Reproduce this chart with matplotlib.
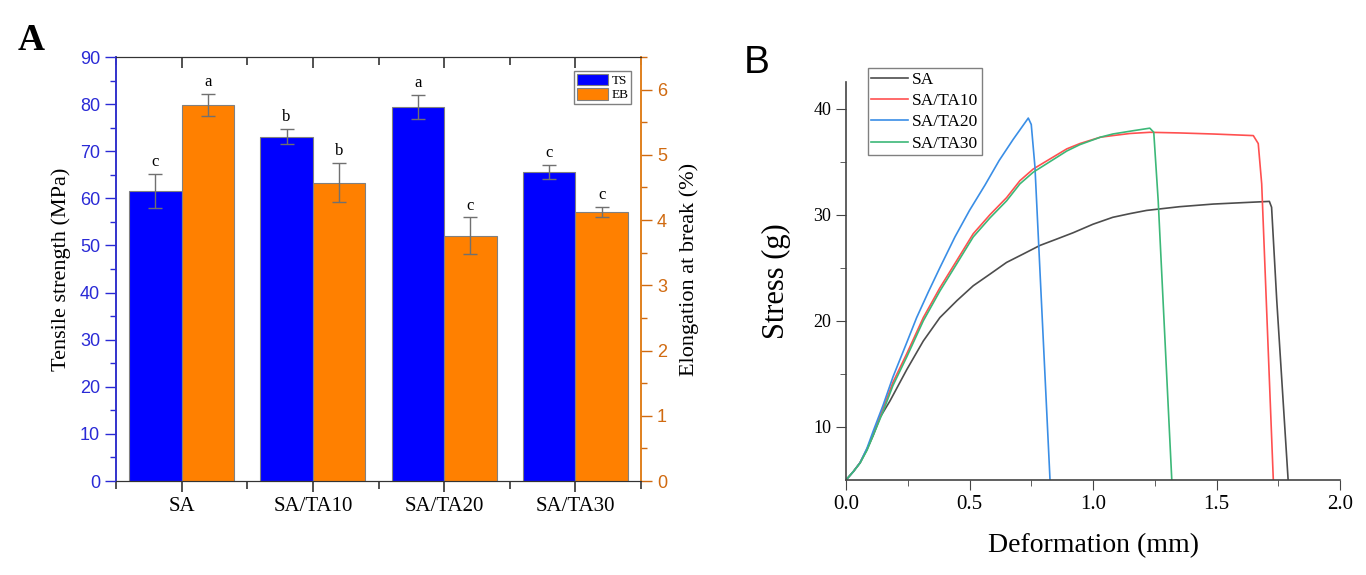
import numpy as np
import matplotlib
matplotlib.use('Agg')
import matplotlib.pyplot as plt
import matplotlib.lines as mlines
from matplotlib.ticker import MultipleLocator, FormatStrFormatter

plt.rcParams['font.family'] = 'Liberation Serif'

# panel A data
cats = ['SA', 'SA/TA10', 'SA/TA20', 'SA/TA30']
ts = [61.5, 73.1, 79.4, 65.6]
ts_err = [3.6, 1.6, 2.5, 1.4]
eb = [5.76, 4.57, 3.76, 4.12]
eb_err = [0.17, 0.30, 0.28, 0.08]
ts_letters = ['c', 'b', 'a', 'c']
eb_letters = ['a', 'b', 'c', 'c']

sa_x = [0.0, 0.03, 0.057, 0.085, 0.11, 0.138, 0.178, 0.246, 0.313, 0.38, 0.449, 0.515, 0.583, 0.65,
        0.718, 0.785, 0.853, 0.92, 1.0, 1.08, 1.15, 1.217, 1.35, 1.487, 1.622, 1.714, 1.723, 1.744, 1.79]
sa_y = [5.0, 5.8, 6.63, 7.9, 9.2, 10.9, 12.45, 15.4, 18.1, 20.3, 21.9, 23.3, 24.4, 25.5,
        26.3, 27.1, 27.7, 28.3, 29.1, 29.75, 30.1, 30.4, 30.75, 31.0, 31.15, 31.25, 30.7, 21.9, 5.0]
ta10_x = [0.0, 0.03, 0.057, 0.085, 0.11, 0.151, 0.19, 0.246, 0.313, 0.38, 0.449, 0.515, 0.583, 0.65,
          0.704, 0.758, 0.826, 0.894, 0.947, 1.03, 1.08, 1.15, 1.23, 1.35, 1.487, 1.649, 1.669, 1.683, 1.73]
ta10_y = [5.0, 5.8, 6.63, 7.9, 9.3, 11.8, 14.2, 16.9, 20.3, 23.1, 25.7, 28.2, 30.0, 31.6,
          33.2, 34.3, 35.25, 36.2, 36.7, 37.3, 37.45, 37.65, 37.76, 37.7, 37.6, 37.45, 36.7, 32.9, 5.0]
ta20_x = [0.0, 0.03, 0.057, 0.085, 0.11, 0.151, 0.19, 0.246, 0.286, 0.333, 0.38, 0.441, 0.50, 0.563,
          0.62, 0.677, 0.738, 0.75, 0.765, 0.826]
ta20_y = [5.0, 5.8, 6.63, 8.0, 9.6, 12.1, 14.7, 17.95, 20.3, 22.7, 25.0, 27.9, 30.4, 32.8,
          35.1, 37.1, 39.1, 38.5, 34.5, 5.0]
ta30_x = [0.0, 0.03, 0.057, 0.085, 0.11, 0.151, 0.19, 0.246, 0.313, 0.38, 0.449, 0.515, 0.583, 0.65,
          0.704, 0.758, 0.826, 0.894, 0.947, 1.03, 1.08, 1.16, 1.23, 1.246, 1.264, 1.319]
ta30_y = [5.0, 5.8, 6.6, 7.8, 9.2, 11.5, 13.9, 16.6, 20.0, 22.8, 25.4, 27.9, 29.7, 31.3,
          32.9, 34.0, 35.0, 36.0, 36.6, 37.3, 37.6, 37.9, 38.15, 37.76, 31.3, 5.0]

W, H = 1366, 575
fig = plt.figure(figsize=(W / 100, H / 100), dpi=100)

# ---------------- panel A ----------------
axA = fig.add_axes([116 / W, 1 - 481 / H, (641 - 116) / W, (481 - 57) / H])
ax2 = axA.twinx()
x = np.arange(len(cats))
ekw = dict(ecolor='#707070', capsize=5, elinewidth=1, capthick=1)
b1 = axA.bar(x - 0.2, ts, 0.4, color='#0000FF', edgecolor='#808080', lw=0.8,
             yerr=ts_err, error_kw=ekw, label='TS')
b2 = ax2.bar(x + 0.2, eb, 0.4, color='#FF8000', edgecolor='#808080', lw=0.8,
             yerr=eb_err, error_kw=ekw, label='EB')
for i in range(len(cats)):
    axA.text(x[i] - 0.2, ts[i] + ts_err[i] + 0.9, ts_letters[i], ha='center', va='bottom', fontsize=12)
    ax2.text(x[i] + 0.2, eb[i] + eb_err[i] + 0.06, eb_letters[i], ha='center', va='bottom', fontsize=12)

axA.set_xlim(-0.5, 3.5)
axA.set_ylim(0, 90)
ax2.set_ylim(0, 6.5)
axA.set_xticks(x)
axA.set_xticklabels(cats, fontsize=15)
axA.xaxis.set_minor_locator(MultipleLocator(1.0, offset=0.5))
axA.yaxis.set_major_locator(MultipleLocator(10))
axA.yaxis.set_minor_locator(MultipleLocator(5))
ax2.yaxis.set_major_locator(MultipleLocator(1))
ax2.yaxis.set_minor_locator(MultipleLocator(0.5))

blue = '#2a2ad6'
orange = '#d06a10'
axA.tick_params(axis='y', which='both', colors=blue, direction='out', labelsize=13)
axA.tick_params(axis='y', which='major', length=8, width=1)
axA.tick_params(axis='y', which='minor', length=4, width=1)
for lab in axA.get_yticklabels():
    lab.set_family('Liberation Sans')
ax2.tick_params(axis='y', which='both', colors=orange, direction='out', labelsize=13)
ax2.tick_params(axis='y', which='major', length=8, width=1)
ax2.tick_params(axis='y', which='minor', length=4, width=1)
for lab in ax2.get_yticklabels():
    lab.set_family('Liberation Sans')
axA.tick_params(axis='x', which='both', top=True, direction='out', width=1.2, color='#333333')
axA.tick_params(axis='x', which='major', length=8)
axA.tick_params(axis='x', which='minor', length=6)
# top ticks point into the plot, bottom ticks point out
for t in axA.xaxis.get_major_ticks() + axA.xaxis.get_minor_ticks():
    t.tick2line.set_marker(mlines.TICKDOWN)

for a in (axA, ax2):
    a.spines['left'].set_color('#3333cc')
    a.spines['right'].set_color('#e0801e')
    a.spines['left'].set_linewidth(1.2)
    a.spines['right'].set_linewidth(1.2)
    a.spines['top'].set_color('#333333')
    a.spines['bottom'].set_color('#333333')

axA.set_ylabel('Tensile strength (MPa)', fontsize=16, labelpad=6)
ax2.set_ylabel('Elongation at break (%)', fontsize=16, labelpad=9)

ax2.legend([b1, b2], ['TS', 'EB'], loc='upper right', bbox_to_anchor=(631 / W, 1 - 71 / H),
           bbox_transform=fig.transFigure, fontsize=9.5, fancybox=False, framealpha=1,
           edgecolor='#808080', handlelength=2.35, handleheight=0.95, handletextpad=0.25,
           borderpad=0.2, labelspacing=0.1, borderaxespad=0)

fig.text(18 / W, 1 - 50 / H, 'A', fontsize=27, fontweight='bold', va='baseline')

# ---------------- panel B ----------------
axB = fig.add_axes([846 / W, 1 - 480 / H, (1340 - 846) / W, (480 - 82) / H])
axB.plot(sa_x, sa_y, color='#4d4d4d', lw=1.2, label='SA')
axB.plot(ta10_x, ta10_y, color='#ff5050', lw=1.2, label='SA/TA10')
axB.plot(ta20_x, ta20_y, color='#3a8ee6', lw=1.2, label='SA/TA20')
axB.plot(ta30_x, ta30_y, color='#3cb878', lw=1.2, label='SA/TA30')
axB.set_xlim(0, 2.0)
axB.set_ylim(5, 42.5)
axB.xaxis.set_major_locator(MultipleLocator(0.5))
axB.xaxis.set_minor_locator(MultipleLocator(0.25))
axB.xaxis.set_major_formatter(FormatStrFormatter('%.1f'))
axB.set_yticks([10, 20, 30, 40])
axB.set_yticks([15, 25, 35], minor=True)
axB.spines['top'].set_visible(False)
axB.spines['right'].set_visible(False)
for s in ('left', 'bottom'):
    axB.spines[s].set_color('#444444')
    axB.spines[s].set_linewidth(1.2)
axB.tick_params(axis='x', which='major', labelsize=15, length=7, color='#444444')
axB.tick_params(axis='x', which='minor', length=4, color='#444444')
axB.tick_params(axis='y', which='major', labelsize=13, length=7, color='#444444')
axB.tick_params(axis='y', which='minor', length=4, color='#444444')
axB.set_xlabel('Deformation (mm)', fontsize=20, labelpad=14)
axB.set_ylabel('Stress (g)', fontsize=22, labelpad=16)
axB.legend(loc='upper left', bbox_to_anchor=(868 / W, 1 - 68 / H), bbox_transform=fig.transFigure,
           fontsize=12.5, fancybox=False, framealpha=1, edgecolor='#808080', handlelength=2.1,
           handletextpad=0.25, borderpad=0.2, labelspacing=0.3, borderaxespad=0)

fig.text(744 / W, 1 - 73 / H, 'B', fontsize=28, family='Liberation Sans', va='baseline')

fig.savefig('out.png', dpi=100)
